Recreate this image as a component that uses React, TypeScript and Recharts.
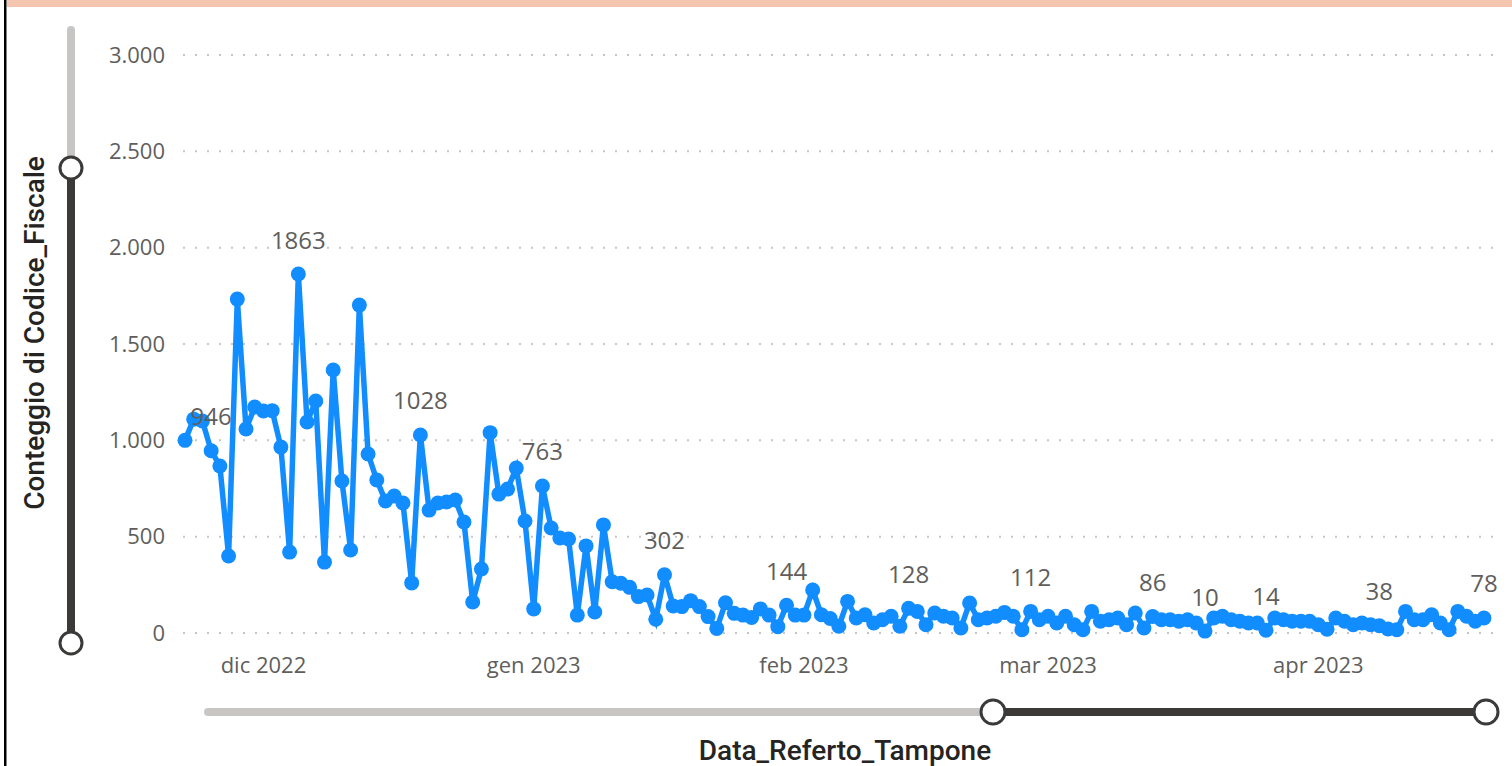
import React from 'react';
import {
  LineChart,
  Line,
  XAxis,
  YAxis,
  CartesianGrid,
  LabelList,
} from 'recharts';

// Power BI style palette
const BLUE = '#118DFF';
const TICK_GREY = '#605E5C';
const TITLE_DARK = '#252423';
const GRID_GREY = '#C8C6C4';
const SLIDER_DARK = '#3B3A39';

// first day shown on the axis: 22 nov 2022
const START_DATE = Date.UTC(2022, 10, 22);
const DAY_MS = 24 * 60 * 60 * 1000;

// daily count of Codice_Fiscale, from 22 nov 2022 onwards
const conteggio = [
  1000, 1110, 1100, 946, 867, 400, 1733, 1059, 1173, 1152,
  1154, 965, 420, 1863, 1095, 1204, 368, 1365, 789, 431,
  1702, 929, 794, 685, 711, 675, 260, 1028, 638, 675,
  680, 690, 576, 161, 332, 1040, 721, 747, 856, 581,
  125, 763, 545, 493, 488, 93, 452, 109, 561, 266,
  258, 237, 189, 197, 71, 302, 140, 137, 168, 137,
  85, 24, 157, 102, 93, 81, 125, 93, 33, 144,
  93, 93, 223, 95, 75, 35, 164, 78, 95, 52,
  69, 87, 35, 128, 112, 43, 104, 87, 78, 26,
  156, 69, 78, 87, 107, 87, 17, 112, 69, 87,
  52, 87, 43, 17, 112, 61, 69, 78, 43, 104,
  26, 86, 69, 69, 61, 69, 52, 10, 78, 87,
  69, 61, 52, 52, 14, 78, 69, 61, 61, 61,
  43, 20, 78, 61, 43, 52, 43, 38, 21, 17,
  112, 69, 69, 95, 52, 17, 112, 87, 61, 78,
];

// points that carry a data label in the report
const labeledDays = [3, 13, 27, 41, 55, 69, 83, 97, 111, 117, 124, 137, 149];

// month axis
const monthStarts = [
  Date.UTC(2022, 11, 1),
  Date.UTC(2023, 0, 1),
  Date.UTC(2023, 1, 1),
  Date.UTC(2023, 2, 1),
  Date.UTC(2023, 3, 1),
];
const monthLabels = ['dic 2022', 'gen 2023', 'feb 2023', 'mar 2023', 'apr 2023'];

const yTicks = [0, 500, 1000, 1500, 2000, 2500, 3000];

const monthTickDays = monthStarts.map((t) => Math.round((t - START_DATE) / DAY_MS));

const data = conteggio.map((v, i) => ({ giorno: i, conteggio: v }));

const formatThousands = (v: number) =>
  v.toString().replace(/\B(?=(\d{3})+(?!\d))/g, '.');

const renderPointLabel = (props: any) => {
  const { x, y, value, index } = props;
  if (!labeledDays.includes(index)) return null;
  return (
    <text
      x={x}
      y={y - 35}
      fill={TICK_GREY}
      fontSize={24}
      fontFamily="'Open Sans', sans-serif"
      textAnchor="middle"
      dominantBaseline="central"
    >
      {value}
    </text>
  );
};

// zoom sliders and outer frame, drawn around the chart
function Decorations() {
  return (
    <svg
      width={1512}
      height={766}
      style={{ position: 'absolute', left: 0, top: 0, pointerEvents: 'none' }}
    >
      <rect x={7} y={0} width={1505} height={7} fill="#F4C6B0" />
      <rect x={4} y={0} width={2.5} height={766} fill="#000" />

      {/* vertical zoom slider */}
      <line x1={71} y1={30} x2={71} y2={168} stroke={GRID_GREY} strokeWidth={8} strokeLinecap="round" />
      <line x1={71} y1={168} x2={71} y2={643} stroke={SLIDER_DARK} strokeWidth={8} />
      <circle cx={71} cy={168} r={11} fill="#fff" stroke={SLIDER_DARK} strokeWidth={3} />
      <circle cx={71} cy={643} r={11} fill="#fff" stroke={SLIDER_DARK} strokeWidth={3} />

      {/* horizontal zoom slider */}
      <line x1={208} y1={712} x2={993} y2={712} stroke={GRID_GREY} strokeWidth={8} strokeLinecap="round" />
      <line x1={993} y1={712} x2={1486} y2={712} stroke={SLIDER_DARK} strokeWidth={8} />
      <circle cx={993} cy={712} r={12} fill="#fff" stroke={SLIDER_DARK} strokeWidth={3} />
      <circle cx={1486} cy={712} r={12} fill="#fff" stroke={SLIDER_DARK} strokeWidth={3} />

      <text
        transform="translate(34,333) rotate(-90)"
        textAnchor="middle"
        dominantBaseline="central"
        fill={TITLE_DARK}
        fontSize={28}
        fontWeight={500}
        fontFamily="Roboto, sans-serif"
      >
        Conteggio di Codice_Fiscale
      </text>
      <text
        x={845}
        y={750}
        textAnchor="middle"
        dominantBaseline="central"
        fill={TITLE_DARK}
        fontSize={28}
        fontWeight={500}
        fontFamily="Roboto, sans-serif"
      >
        Data_Referto_Tampone
      </text>
    </svg>
  );
}

export default function App() {
  return (
    <div
      style={{
        position: 'absolute',
        left: 0,
        top: 0,
        width: 1512,
        height: 766,
        background: '#fff',
        overflow: 'hidden',
        fontFamily: "'Open Sans', sans-serif",
      }}
    >
      <LineChart
        width={1512}
        height={766}
        data={data}
        margin={{ top: 55, right: 12, bottom: 93, left: 0 }}
      >
        <CartesianGrid
          horizontal
          vertical={false}
          stroke={GRID_GREY}
          strokeWidth={2}
          strokeDasharray="2 10"
        />
        <XAxis
          dataKey="giorno"
          type="number"
          domain={[-0.23, 150.84]}
          ticks={monthTickDays}
          tickFormatter={(d: number) => monthLabels[monthTickDays.indexOf(d)]}
          axisLine={false}
          tickLine={false}
          tickSize={0}
          tickMargin={24}
          height={40}
          interval={0}
          tick={{ fill: TICK_GREY, fontSize: 22, fontFamily: "'Open Sans', sans-serif" }}
        />
        <YAxis
          type="number"
          domain={[0, 3000]}
          ticks={yTicks}
          width={183}
          axisLine={false}
          tickLine={false}
          tickSize={0}
          tickMargin={18}
          interval={0}
          tickFormatter={formatThousands}
          tick={{ fill: TICK_GREY, fontSize: 22, fontFamily: "'Open Sans', sans-serif" }}
        />
        <Line
          type="linear"
          dataKey="conteggio"
          stroke={BLUE}
          strokeWidth={5.5}
          dot={{ r: 7.5, fill: BLUE, stroke: BLUE, strokeWidth: 0 }}
          activeDot={false}
          isAnimationActive={false}
        >
          <LabelList dataKey="conteggio" content={renderPointLabel} />
        </Line>
      </LineChart>
      <Decorations />
    </div>
  );
}
